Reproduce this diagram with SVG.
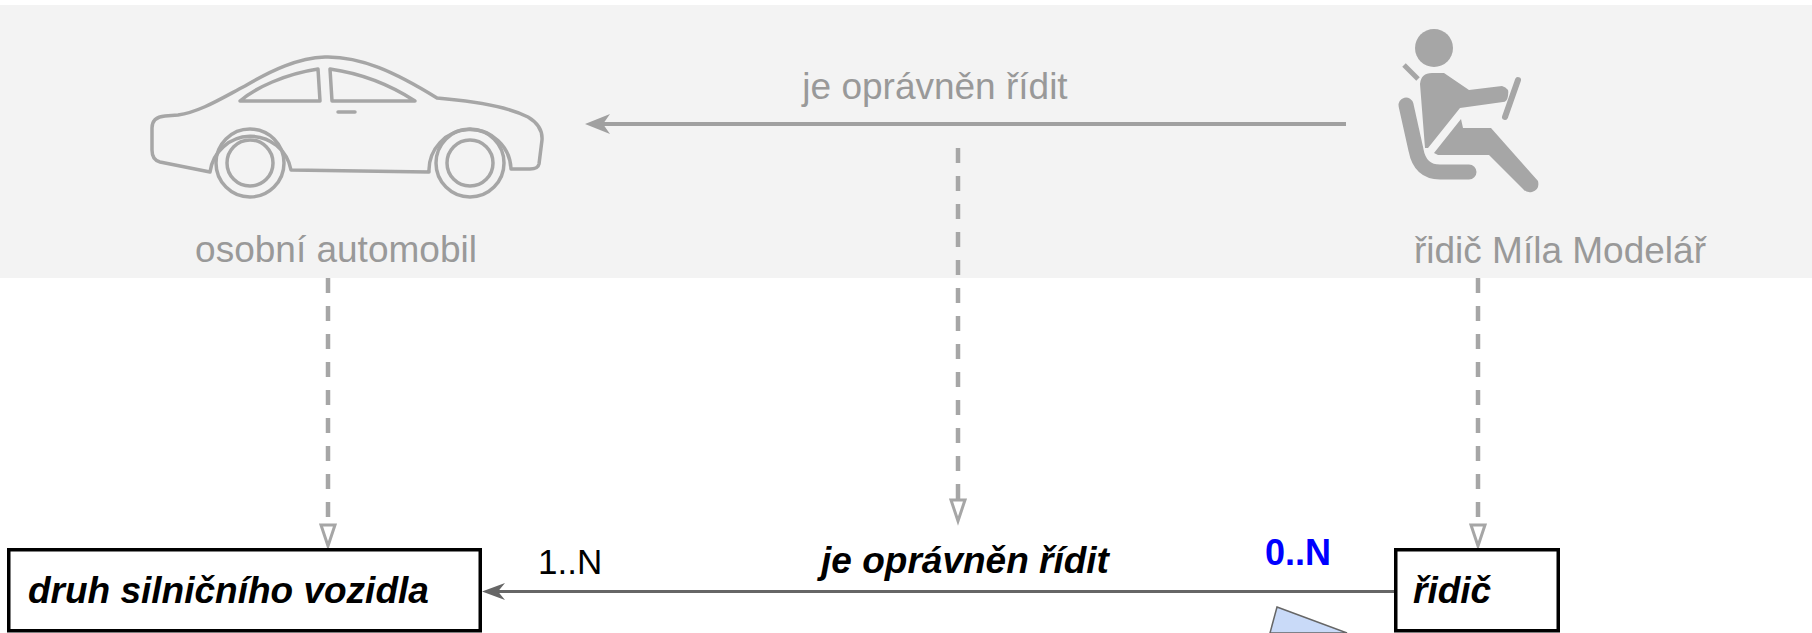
<svg xmlns="http://www.w3.org/2000/svg" width="1812" height="633" viewBox="0 0 1812 633">
  <style>
    .lbl { font-family: "Liberation Sans", Arial, sans-serif; font-size: 37px; fill: #999999; }
    .cls { font-family: "Liberation Sans", Arial, sans-serif; font-size: 37px; font-weight: bold; font-style: italic; fill: #000000; }
    .mult { font-family: "Liberation Sans", Arial, sans-serif; font-size: 35px; fill: #000000; }
    .multb { font-family: "Liberation Sans", Arial, sans-serif; font-size: 36px; font-weight: bold; fill: #0000FF; }
    .box { fill: #FFFFFF; stroke: #000000; stroke-width: 3.5; }
    .icon { fill: none; stroke: #A6A6A6; stroke-width: 3.5; stroke-linejoin: round; stroke-linecap: round; }
    .dash { stroke: #A6A6A6; stroke-width: 4.5; stroke-dasharray: 15 13; fill: none; }
    .hollow { fill: #FFFFFF; stroke: #A6A6A6; stroke-width: 3; }
  </style>

  <rect x="0" y="5" width="1812" height="273" fill="#F3F3F3"/>

  <g id="node-osobni-automobil">
    <path class="icon" fill="#F3F4F6" d="M210,172 L160,162 Q152,160 152,150 L152,128 Q152,117 165,116 L178,115 C200,112 222,98 245,86 C272,70 298,58 325,57 C360,56 395,72 437,98 L447,99 C480,102 510,108 528,117 Q543,126 542,140 L539,164 Q538,169 530,169 L511,169 A41,41 0 0 0 429,172 L291,170 A41,41 0 0 0 210,172 Z"/>
    <path class="icon" d="M240,101 C255,88 285,74 318,69 L320,101 Z"/>
    <path class="icon" d="M330,69 L332,101 L415,101 C395,88 365,74 330,69 Z"/>
    <path class="icon" d="M338,112 L355,112"/>
    <circle class="icon" cx="250" cy="163" r="34"/>
    <circle class="icon" cx="250" cy="163" r="23"/>
    <circle class="icon" cx="470" cy="163" r="34"/>
    <circle class="icon" cx="470" cy="163" r="23"/>
    <text class="lbl" x="336" y="262" text-anchor="middle">osobní automobil</text>
  </g>

  <g id="node-ridic-mila-modelar">
    <circle cx="1434" cy="48" r="19" fill="#A6A6A6"/>
    <path d="M1404,65 L1418,79" stroke="#A6A6A6" stroke-width="5" fill="none"/>
    <path d="M1406,105 L1416,150 Q1420,172 1440,172 L1469,172" stroke="#A6A6A6" stroke-width="15" stroke-linecap="round" stroke-linejoin="round" fill="none"/>
    <path d="M1420,84 Q1421,73 1432,73 L1444,73 L1469,90 L1502,86 Q1510,88 1508,96 Q1507,102 1503,102 L1460,108 L1428,148 L1425,148 Z" fill="#A6A6A6"/>
    <path d="M1434,153 L1461,119 L1463,128 L1491,128 L1538,181 Q1540,190 1532,192 Q1526,193 1523,189 L1489,155 L1438,155 Z" fill="#A6A6A6"/>
    <path d="M1518,80 L1505,117" stroke="#A6A6A6" stroke-width="6" stroke-linecap="round" fill="none"/>
    <text class="lbl" x="1560" y="263" text-anchor="middle">řidič Míla Modelář</text>
  </g>

  <g id="connectors">
    <line x1="1346" y1="124" x2="600" y2="124" stroke="#A0A0A0" stroke-width="4"/>
    <polygon points="585,124 610,114 603,124 610,134" fill="#A0A0A0"/>
    <text class="lbl" x="935" y="99" text-anchor="middle">je oprávněn řídit</text>

    <line class="dash" x1="958" y1="148" x2="958" y2="500"/>
    <polygon class="hollow" points="951,500 965,500 958,521"/>

    <line class="dash" x1="328" y1="278" x2="328" y2="525"/>
    <polygon class="hollow" points="321,525 335,525 328,546"/>

    <line class="dash" x1="1478" y1="278" x2="1478" y2="525"/>
    <polygon class="hollow" points="1471,525 1485,525 1478,546"/>

    <line x1="1394" y1="591.5" x2="498" y2="591.5" stroke="#666666" stroke-width="3"/>
    <polygon points="482,591.5 505,583 498,591.5 505,600" fill="#666666"/>
    <text class="mult" x="538" y="574">1..N</text>
    <text class="cls" x="965" y="573" text-anchor="middle">je oprávněn řídit</text>
    <text class="multb" x="1265" y="565">0..N</text>
  </g>

  <g id="node-druh-silnicniho-vozidla">
    <rect class="box" x="8.75" y="549.75" width="471.5" height="81"/>
    <text class="cls" x="28" y="603">druh silničního vozidla</text>
  </g>

  <g id="node-ridic">
    <rect class="box" x="1395.75" y="549.75" width="162.5" height="81"/>
    <text class="cls" x="1413" y="603">řidič</text>
  </g>

  <g id="node-shape">
    <polygon points="1277,607 1347,633 1270,633" fill="#C9DAF8" stroke="#666666" stroke-width="1.5"/>
  </g>
</svg>
